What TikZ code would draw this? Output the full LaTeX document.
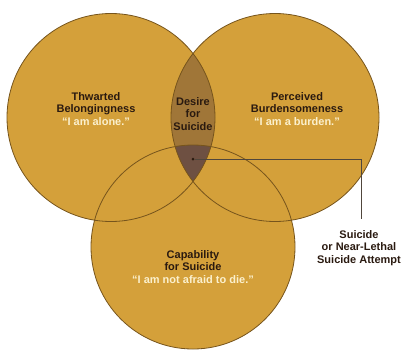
\documentclass[tikz,border=0pt]{standalone}
\usepackage{fontspec}
\setmainfont{Liberation Sans}
\definecolor{gold}{RGB}{212,160,58}
\definecolor{lens}{RGB}{160,118,56}
\definecolor{triple}{RGB}{110,80,66}
\definecolor{rim}{RGB}{118,84,28}
\definecolor{ink}{RGB}{42,26,16}
\definecolor{quote}{RGB}{251,240,205}
\definecolor{wire}{RGB}{80,70,60}
\begin{document}
\begin{tikzpicture}[x=1pt,y=-1pt,
  lbl/.style={align=center,text=ink,inner sep=0pt,font=\bfseries\fontsize{11}{12.3}\selectfont},
  rimline/.style={draw=rim,line width=0.8pt},
  wireline/.style={draw=wire,line width=0.8pt}]
\useasboundingbox (0,0) rectangle (406,349);
\coordinate (cL) at (111,117.5);
\coordinate (cR) at (275,117.5);
\coordinate (cB) at (193,247);
% fills
\fill[gold] (cL) circle[radius=104pt];
\fill[gold] (cR) circle[radius=104pt];
\fill[gold] (cB) circle[radius=102pt];
\begin{scope}
  \clip (cL) circle[radius=104pt];
  \fill[lens] (cR) circle[radius=104pt];
\end{scope}
\begin{scope}
  \clip (cL) circle[radius=104pt];
  \clip (cR) circle[radius=104pt];
  \fill[triple] (cB) circle[radius=102pt];
\end{scope}
% outlines
\draw[rimline] (cL) circle[radius=104pt];
\draw[rimline] (cR) circle[radius=104pt];
\draw[rimline] (cB) circle[radius=102pt];
% labels
\node[lbl] (tb) at (96,109) {Thwarted\\Belongingness\\{\color{quote}“I am alone.”}};
\node[lbl] (pb) at (297,109) {Perceived\\Burdensomeness\\{\color{quote}“I am a burden.”}};
\node[lbl] (ds) at (193,114) {Desire\\for\\Suicide};
\node[lbl] (cs) at (193,267) {Capability\\for Suicide\\{\color{quote}“I am not afraid to die.”}};
\node[lbl,anchor=north] (sa) at (359,230.5) {Suicide\\or Near-Lethal\\Suicide Attempt};
% connector
\node[circle,fill=ink,inner sep=0pt,minimum size=3pt] (dot) at (193,159) {};
\coordinate (bend) at (361,219);
\draw[wireline] (dot) -| (bend);
\end{tikzpicture}
\end{document}
